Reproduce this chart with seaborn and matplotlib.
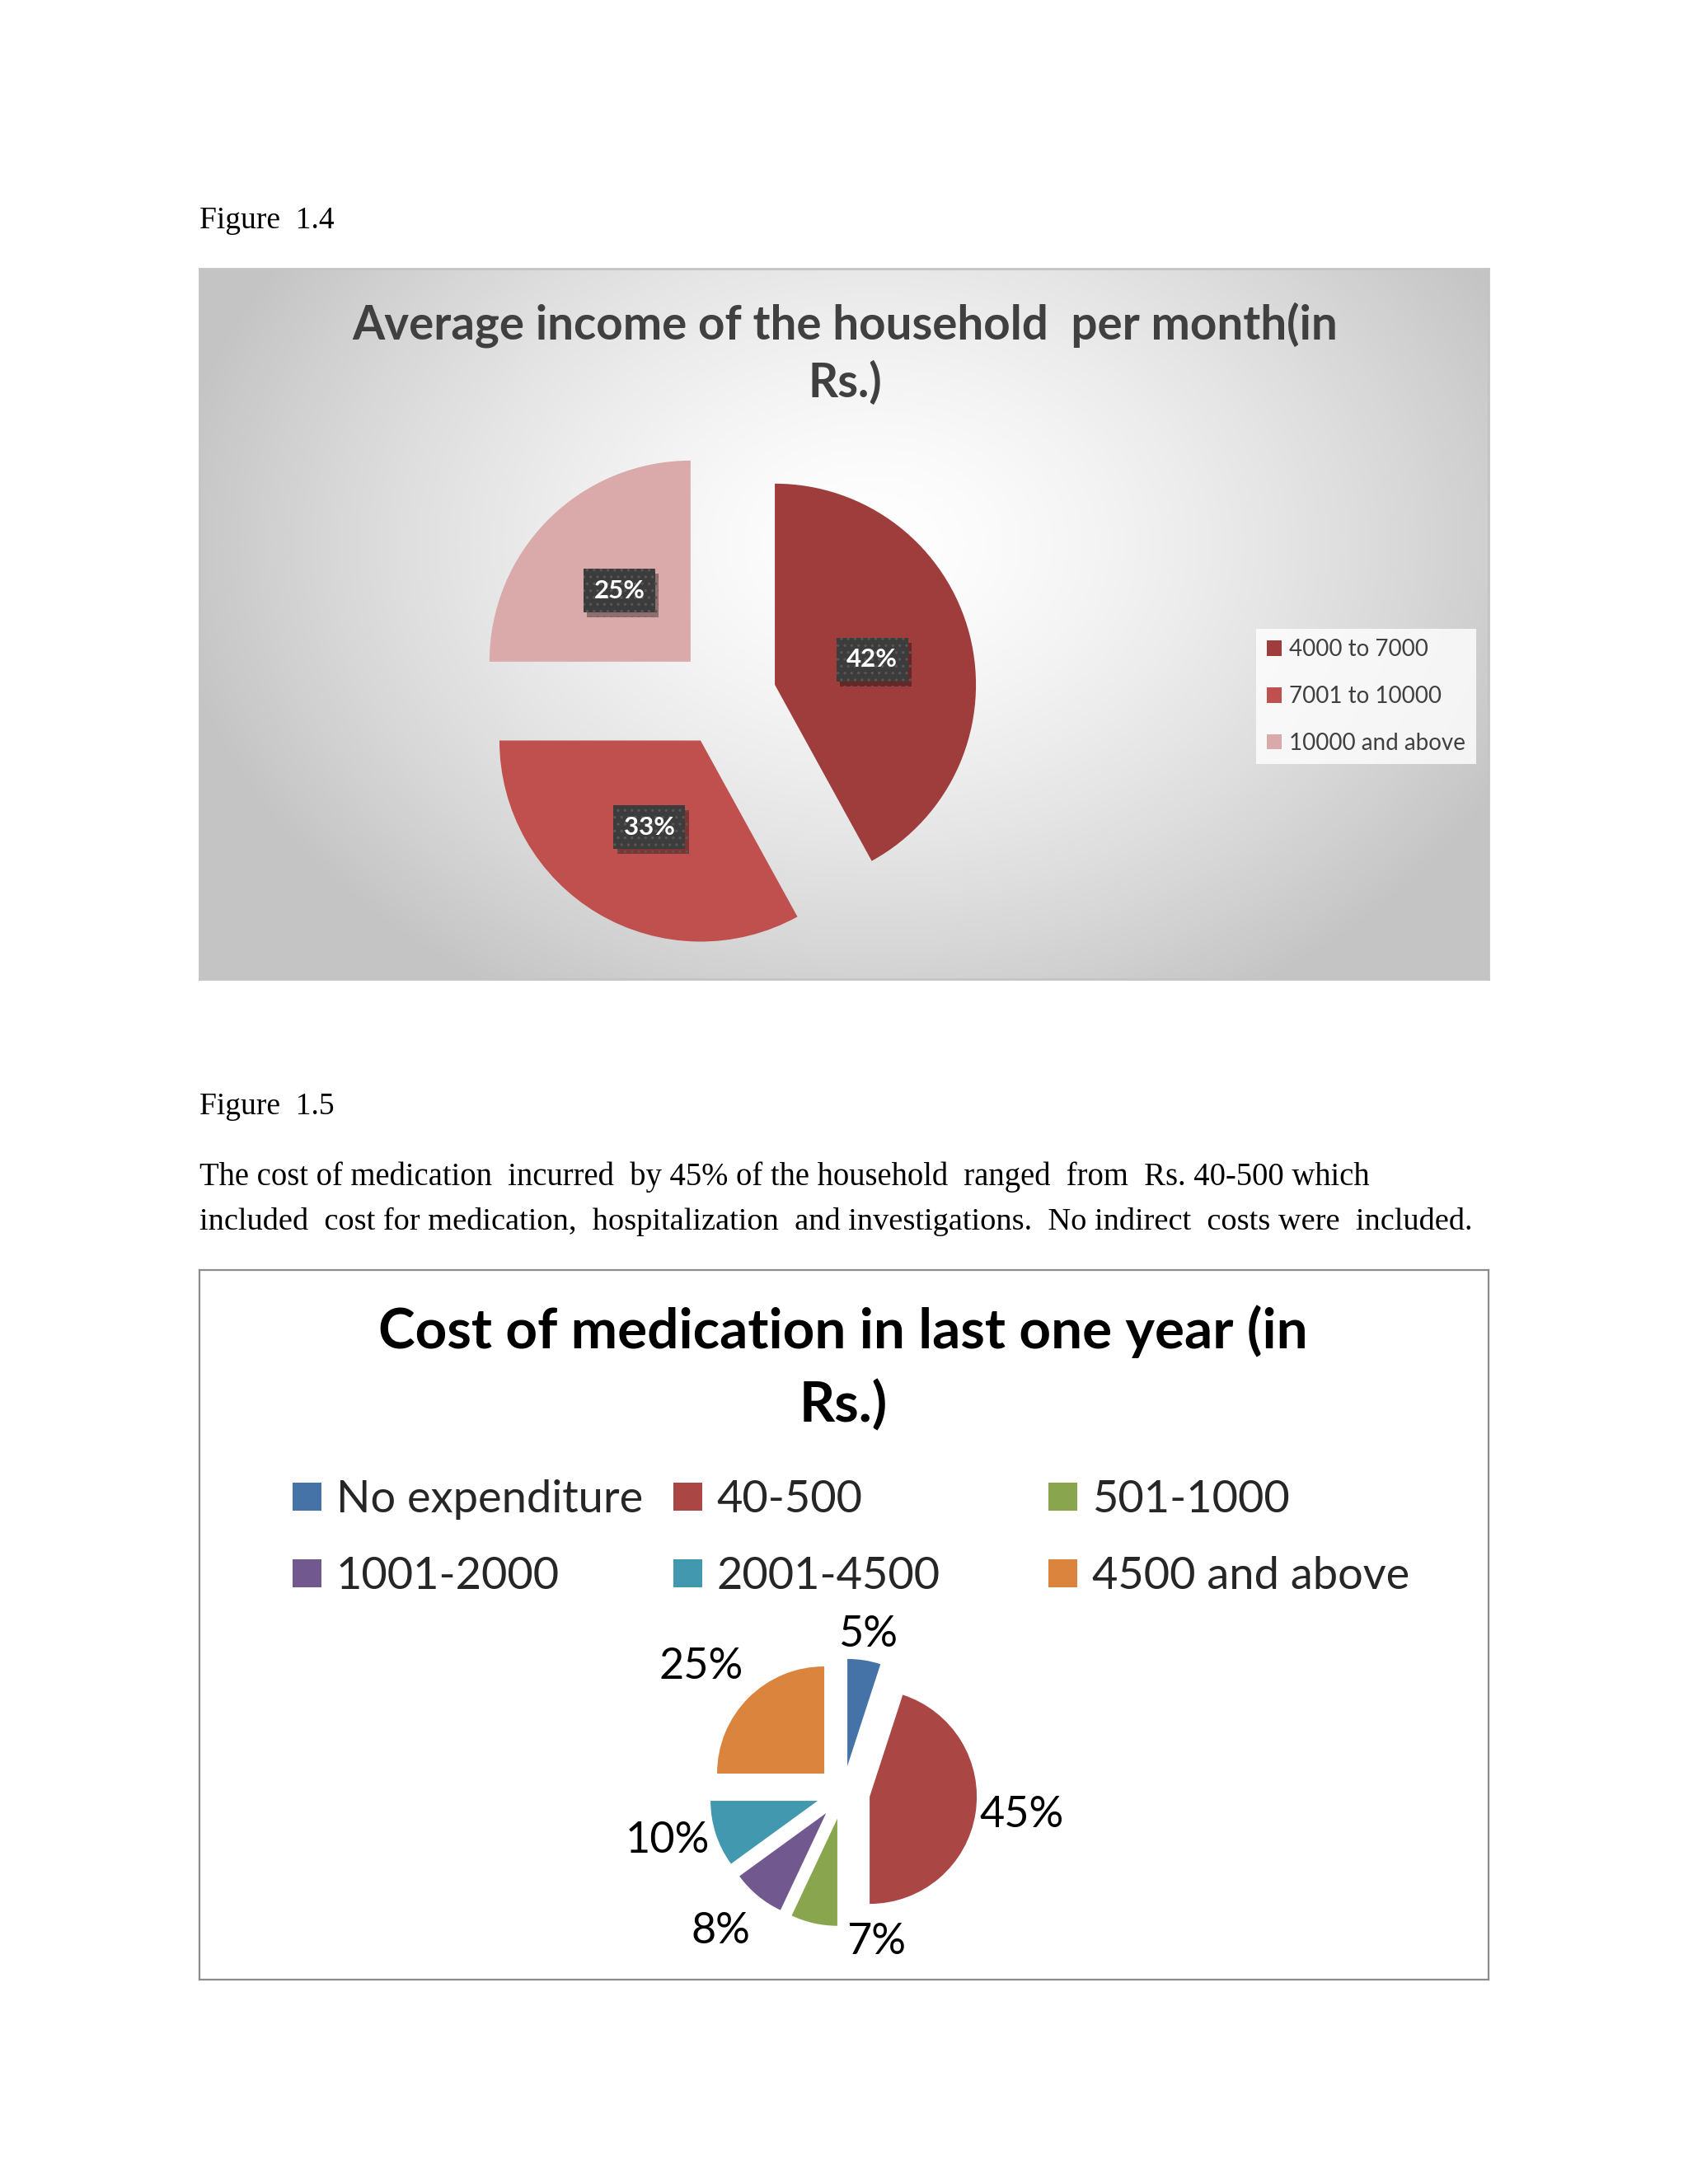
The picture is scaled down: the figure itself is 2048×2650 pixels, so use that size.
import numpy as np
import matplotlib
matplotlib.use("Agg")
import matplotlib.pyplot as plt
import matplotlib.patheffects as pe
import seaborn as sns

# ---------------- data ----------------
income_labels = ["4000 to 7000", "7001 to 10000", "10000 and above"]
income_shares = [42, 33, 25]
income_title = ["Average income of the household  per month(in", "Rs.)"]

med_labels = ["No expenditure", "40-500", "501-1000", "1001-2000", "2001-4500", "4500 and above"]
med_shares = [5, 45, 7, 8, 10, 25]
med_title = ["Cost of medication in last one year (in", "Rs.)"]

captions = ["Figure  1.4", "Figure  1.5"]
para_lines = [
    "The cost of medication  incurred  by 45% of the household  ranged  from  Rs. 40-500 which",
    "included  cost for medication,  hospitalization  and investigations.  No indirect  costs were  included.",
]

# ---------------- styles ----------------
income_colors = ["#9E3D3C", "#C0504D", "#DAA9A9"]
med_colors = ["#4572A7", "#AA4643", "#89A54E", "#71588F", "#4198AF", "#DB843D"]
med_label_dist = [1.24, 1.43, 1.21, 1.48, 1.45, 1.52]
med_label_shift = [0, 2, 30, -2, -3, 4]

W, H = 2048, 2650
sns.set_theme(style="white")
plt.rcParams["font.family"] = ["Lato", "DejaVu Sans"]
plt.rcParams["hatch.linewidth"] = 1.2

fig = plt.figure(figsize=(W / 100, H / 100), dpi=100)
fig.patch.set_facecolor("white")


def fx(x):
    return x / W


def fy(y):
    return 1 - y / H


def px_axes(x0, y0, x1, y1, **kw):
    return fig.add_axes([x0 / W, 1 - y1 / H, (x1 - x0) / W, (y1 - y0) / H], **kw)


SERIF = ["Liberation Serif", "DejaVu Serif"]

# ---------------- document text ----------------
fig.text(fx(242), fy(277), captions[0], family=SERIF, fontsize=27, va="baseline", ha="left", color="black")
fig.text(fx(242), fy(1352), captions[1], family=SERIF, fontsize=27, va="baseline", ha="left", color="black")
fig.text(fx(242), fy(1438), para_lines[0], family=SERIF, fontsize=27.8, va="baseline", ha="left", color="black")
fig.text(fx(242), fy(1492), para_lines[1], family=SERIF, fontsize=27.6, va="baseline", ha="left", color="black")

# ---------------- chart 1 background ----------------
bx0, by0, bx1, by1 = 242, 326, 1806, 1188
bg = px_axes(bx0, by0, bx1, by1)
gx = np.linspace(bx0, bx1, 400)
gy = np.linspace(by0, by1, 240)
X, Y = np.meshgrid(gx, gy)
d = np.sqrt(((X - 1060) / 860) ** 2 + ((Y - 660) / 640) ** 2)
val = 1 - 0.23 * np.clip(d, 0, 1.0) ** 1.45
bg.imshow(np.dstack([val, val, val]), extent=[bx0, bx1, by1, by0], aspect="auto", interpolation="bilinear")
bg.set_xlim(bx0, bx1)
bg.set_ylim(by1, by0)
bg.set_xticks([])
bg.set_yticks([])
for s in bg.spines.values():
    s.set_color("#c4c4c4")
    s.set_linewidth(2)

fig.text(fx(1025), fy(411), income_title[0], fontsize=40.7, weight="bold", color="#404040", ha="center", va="baseline")
fig.text(fx(1025), fy(482), income_title[1], fontsize=40.7, weight="bold", color="#404040", ha="center", va="baseline")

# ---------------- chart 1 pie ----------------
c1x, c1y, r1 = 881, 846, 244
L1 = 1.7
hs = L1 * r1
ax1 = px_axes(c1x - hs, c1y - hs, c1x + hs, c1y + hs)
ax1.patch.set_visible(False)
wedges1, _, autot1 = ax1.pie(
    income_shares, colors=income_colors, startangle=90, counterclock=False,
    explode=[0.25] * len(income_shares), radius=1,
    autopct="%1.0f%%", pctdistance=0.5,
    wedgeprops=dict(linewidth=0),
)
for t in autot1:
    t.set_color("white")
    t.set_fontsize(22.5)
    t.set_fontweight("bold")
    t.set_bbox(dict(boxstyle="square,pad=0.4", facecolor="#3c3c3c", edgecolor="#575757",
                    linewidth=0, hatch=".."))
    t.get_bbox_patch().set_path_effects(
        [pe.SimplePatchShadow(offset=(3, -4), shadow_rgbFace="black", alpha=0.35), pe.Normal()])
ax1.set_xlim(-L1, L1)
ax1.set_ylim(-L1, L1)
ax1.set_aspect("equal")
ax1.axis("off")

leg1 = ax1.legend(
    wedges1, income_labels, loc="upper left",
    bbox_to_anchor=(fx(1524), fy(763)), bbox_transform=fig.transFigure,
    fontsize=20, handlelength=0.65, handleheight=0.65, handletextpad=0.35,
    labelspacing=1.1, borderpad=0.45, borderaxespad=0,
    frameon=True, fancybox=False,
)
leg1.get_frame().set_facecolor((1, 1, 1, 0.35))
leg1.get_frame().set_edgecolor("none")
for t in leg1.get_texts():
    t.set_color("#404040")

# ---------------- chart 2 frame ----------------
fb = px_axes(242, 1541, 1806, 2402)
fb.set_facecolor("white")
fb.set_xticks([])
fb.set_yticks([])
for s in fb.spines.values():
    s.set_color("#8c8c8c")
    s.set_linewidth(1.6)

fig.text(fx(1023), fy(1636), med_title[0], fontsize=48.5, weight="bold", color="black", ha="center", va="baseline")
fig.text(fx(1023), fy(1725), med_title[1], fontsize=48.5, weight="bold", color="black", ha="center", va="baseline")

# ---------------- chart 2 pie ----------------
c2x, c2y, r2 = 1023, 2175, 130
L2 = 2.3
hs2 = L2 * r2
ax2 = px_axes(c2x - hs2, c2y - hs2, c2x + hs2, c2y + hs2)
ax2.patch.set_visible(False)
wedges2, _ = ax2.pie(
    med_shares, colors=med_colors, startangle=90, counterclock=False,
    explode=[0.25] * len(med_shares), radius=1,
    wedgeprops=dict(linewidth=0),
)
for w, v, dist, sh in zip(wedges2, med_shares, med_label_dist, med_label_shift):
    mid = np.deg2rad((w.theta1 + w.theta2) / 2 + sh)
    cx, cy = w.center
    ax2.text(cx + dist * w.r * np.cos(mid), cy + dist * w.r * np.sin(mid), f"{v}%",
             ha="center", va="center", fontsize=37.5, color="black")
ax2.set_xlim(-L2, L2)
ax2.set_ylim(-L2, L2)
ax2.set_aspect("equal")
ax2.axis("off")

# legend in three equal-width columns
col_x = [355, 817, 1272]
ncols = 3
for ci in range(ncols):
    idx = list(range(ci, len(med_labels), ncols))
    fig.legend(
        [wedges2[i] for i in idx], [med_labels[i] for i in idx], loc="upper left",
        bbox_to_anchor=(fx(col_x[ci]), fy(1795)), bbox_transform=fig.transFigure,
        fontsize=39, handlelength=0.65, handleheight=0.59, handletextpad=0.32,
        labelspacing=0.81, borderpad=0, borderaxespad=0, frameon=False,
    )

fig.savefig("out.png", dpi=100, facecolor="white")
